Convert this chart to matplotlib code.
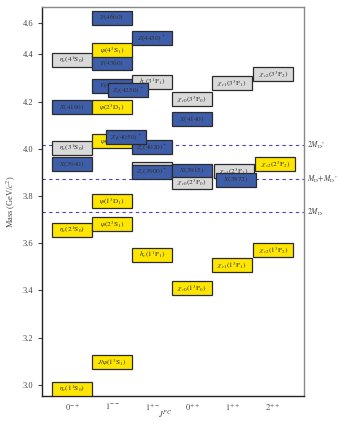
import numpy as np
import matplotlib
matplotlib.use('Agg')
import matplotlib.pyplot as plt

plt.rcParams['font.family'] = ['Liberation Serif', 'DejaVu Serif']
plt.rcParams['mathtext.fontset'] = 'stix'

# states: label, J^PC column, mass (GeV), kind (y = charmonium, b = exotic/XYZ, g = predicted)
labels = [r'$\eta_c(1^1\mathrm{S}_0)$', r'$\eta_c(2^1\mathrm{S}_0)$', r'$X(3940)$',
          r'$\eta_c(3^1\mathrm{S}_0)$', r'$X(4160)$', r'$\eta_c(4^1\mathrm{S}_0)$',
          r'$J/\psi(1^3\mathrm{S}_1)$', r'$\psi(2^3\mathrm{S}_1)$', r'$\psi(1^3\mathrm{D}_1)$',
          r'$\psi(3^3\mathrm{S}_1)$', r'$\psi(2^3\mathrm{D}_1)$', r'$Y(4260)$', r'$Y(4360)$',
          r'$\psi(4^3\mathrm{S}_1)$', r'$Y(4660)$',
          r'$h_c(1^1\mathrm{P}_1)$', r'$h_c(2^1\mathrm{P}_1)$', r'$Z_c(3900)^+$',
          r'$Z_c(4020)^+$', r'$Z_1(4050)^+$', r'$h_c(3^1\mathrm{P}_1)$', r'$Z_2(4250)^+$',
          r'$Z(4430)^+$',
          r'$\chi_{c0}(1^3\mathrm{P}_0)$', r'$\chi_{c0}(2^3\mathrm{P}_0)$', r'$X(3915)$',
          r'$X(4140)$', r'$\chi_{c0}(3^3\mathrm{P}_0)$',
          r'$\chi_{c1}(1^3\mathrm{P}_1)$', r'$\chi_{c1}(2^3\mathrm{P}_1)$', r'$X(3872)$',
          r'$\chi_{c1}(3^3\mathrm{P}_1)$',
          r'$\chi_{c2}(1^3\mathrm{P}_2)$', r'$\chi_{c2}(2^3\mathrm{P}_2)$', r'$\chi_{c2}(3^3\mathrm{P}_2)$']
column = [0, 0, 0, 0, 0, 0,
          1, 1, 1, 1, 1, 1, 1, 1, 1,
          2, 2, 2, 2, 1.35, 2, 1.39, 2,
          3, 3, 3, 3, 3,
          4, 4.05, 4.09, 4,
          5.03, 5.08, 5.03]
mass = [2.983, 3.655, 3.936, 4.002, 4.176, 4.377,
        3.097, 3.683, 3.780, 4.034, 4.178, 4.267, 4.362, 4.420, 4.660,
        3.551, 3.915, 3.903, 4.008, 4.051, 4.282, 4.250, 4.470,
        3.410, 3.858, 3.908, 4.125, 4.210,
        3.508, 3.907, 3.869, 4.280,
        3.572, 3.934, 4.318]
kind = ['y', 'y', 'b', 'g', 'b', 'g',
        'y', 'y', 'y', 'y', 'y', 'b', 'b', 'y', 'b',
        'y', 'g', 'b', 'b', 'b', 'g', 'b', 'b',
        'y', 'g', 'b', 'b', 'g',
        'y', 'g', 'b', 'g',
        'y', 'y', 'g']

jpc = [r'$0^{-+}$', r'$1^{--}$', r'$1^{+-}$', r'$0^{++}$', r'$1^{++}$', r'$2^{++}$']

thresholds = [4.014, 3.872, 3.730]
threshold_labels = [r'$2M_{\mathrm{D}^*}$', r'$M_{\mathrm{D}}\!+\!M_{\mathrm{D}^*}$', r'$2M_{\mathrm{D}}$']

colors = {'y': '#FFE600', 'b': '#3E5EA9', 'g': '#D9D9D9'}

# upper part of the mass axis is squeezed in the original
K = 0.35
def fwd(y):
    y = np.asarray(y, dtype=float)
    return np.where(y > 4.5, 4.5 + (y - 4.5) * K, y)

def inv(v):
    v = np.asarray(v, dtype=float)
    return np.where(v > 4.5, 4.5 + (v - 4.5) / K, v)

fig = plt.figure(figsize=(3.39, 4.22), dpi=100)
ax = fig.add_axes([0.124, 0.062, 0.773, 0.921])
ax.set_yscale('function', functions=(fwd, inv))

h = 0.059
for i, (lab, x, m, k) in enumerate(zip(labels, column, mass, kind)):
    c = float(fwd(m))
    lo = float(inv(c - h / 2))
    hi = float(inv(c + h / 2))
    ax.bar(x, hi - lo, bottom=lo, width=1.0, color=colors[k],
           edgecolor='#2b2b2b', linewidth=0.9, zorder=3 + i)
    ax.text(x, m, lab, ha='center', va='center', fontsize=5.2,
            color='#333333', zorder=3.5 + i)

for t, tl in zip(thresholds, threshold_labels):
    ax.axhline(t, color='#4a3fc0', linestyle=(0, (3, 3)), linewidth=0.8, zorder=2)
    ax.text(1.01, t, tl, transform=ax.get_yaxis_transform(), ha='left',
            va='center', fontsize=5.5, color='#444444')

ax.set_xlim(-0.75, 5.8)
ax.set_ylim(2.953, 4.786)
ax.set_yticks([3.0, 3.2, 3.4, 3.6, 3.8, 4.0, 4.2, 4.4, 4.6])
ax.set_yticklabels(['3.0', '3.2', '3.4', '3.6', '3.8', '4.0', '4.2', '4.4', '4.6'])
ax.yaxis.set_minor_locator(matplotlib.ticker.NullLocator())
ax.set_xticks(range(len(jpc)))
ax.set_xticklabels(jpc)
ax.tick_params(axis='x', length=0, labelsize=6, colors='#444444', pad=4)
ax.tick_params(axis='y', length=3, labelsize=6, colors='#444444', width=0.8)
ax.set_ylabel(r'Mass (GeV/$c^2$)', fontsize=6, color='#444444', labelpad=3)
ax.set_xlabel(r'$J^{PC}$', fontsize=6, color='#444444', va='center')
ax.xaxis.set_label_coords(0.47, -0.047)

for s in ['left', 'bottom']:
    ax.spines[s].set_color('#222222')
    ax.spines[s].set_linewidth(1.0)
for s in ['top', 'right']:
    ax.spines[s].set_color('#888888')
    ax.spines[s].set_linewidth(1.0)

fig.savefig('out.png', dpi=100)
